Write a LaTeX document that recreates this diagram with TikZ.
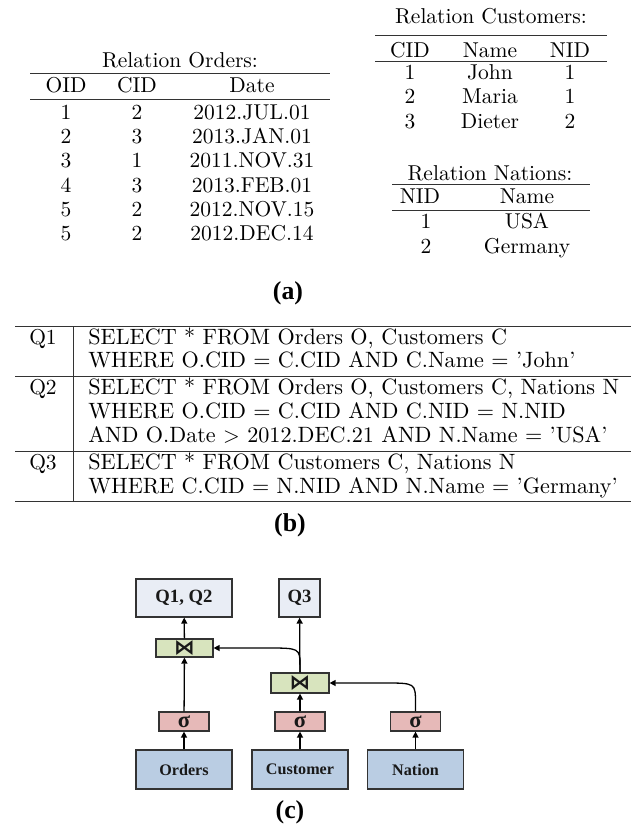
\documentclass[tikz,border=0pt]{standalone}
\usepackage{fontspec}
\newfontfamily\capfont{Liberation Serif}
\newfontfamily\symfont{DejaVu Sans}
\usetikzlibrary{arrows.meta}
\newdimen\pxu \pxu=0.465pt
\definecolor{qfill}{HTML}{E9EDF5}
\definecolor{jfill}{HTML}{D8E4BE}
\definecolor{sfill}{HTML}{E6B9B8}
\definecolor{bfill}{HTML}{BACDE3}
\definecolor{edge}{HTML}{333333}
\begin{document}
\begin{tikzpicture}[x=0.465pt,y=-0.465pt,
  cell/.style={anchor=base,inner sep=0,font=\fontsize{10}{12}\selectfont},
  sql/.style={anchor=base west,inner sep=0,font=\fontsize{10.3}{12}\selectfont},
  rule/.style={line width=0.45pt,draw=black!80},
  sublabel/.style={inner sep=0,font=\capfont\bfseries\fontsize{12}{14}\selectfont},
  opbox/.style={draw=edge,line width=0.55pt,inner sep=0,text=black!90},
  qbox/.style={opbox,fill=qfill,minimum height=38\pxu,font=\capfont\bfseries\fontsize{8.7}{10}\selectfont},
  jbox/.style={opbox,fill=jfill,minimum width=57\pxu,font=\symfont\bfseries\fontsize{9.6}{10}\selectfont},
  sbox/.style={opbox,fill=sfill,minimum width=50\pxu,minimum height=19\pxu,font=\capfont\bfseries\fontsize{10.5}{10}\selectfont},
  bbox/.style={opbox,fill=bfill,minimum width=96\pxu,minimum height=39\pxu,font=\capfont\bfseries\fontsize{7.5}{9}\selectfont},
  arr/.style={line width=0.6pt,draw=black,-{Triangle[length=2.8pt,width=2.8pt]}}
]
\useasboundingbox (0,0) rectangle (631,825);

% ---- relation Orders ----
\node[cell] (ocap) at (180,67) {Relation Orders:};
\draw[rule] (30,73) -- (330,73);
\node[cell] (oh1) at (66,92) {OID};
\node[cell] (oh2) at (137,92) {CID};
\node[cell] (oh3) at (252,92) {Date};
\draw[rule] (30,99) -- (330,99);
\foreach \y/\a/\b/\c [count=\k] in {119/1/2/2012.JUL.01,143/2/3/2013.JAN.01,167/3/1/2011.NOV.31,192/4/3/2013.FEB.01,216/5/2/2012.NOV.15,240/5/2/2012.DEC.14}{
  \node[cell] (o\k a) at (66,\y) {\a};
  \node[cell] (o\k b) at (137,\y) {\b};
  \node[cell] (o\k c) at (252,\y) {\c};
}

% ---- relation Customers ----
\node[cell] (ccap) at (491,23) {Relation Customers:};
\draw[rule] (375,35) -- (607,35);
\node[cell] (ch1) at (410,57) {CID};
\node[cell] (ch2) at (490,57) {Name};
\node[cell] (ch3) at (570,57) {NID};
\draw[rule] (375,61) -- (607,61);
\foreach \y/\a/\b/\c [count=\k] in {79/1/John/1,103/2/Maria/1,128/3/Dieter/2}{
  \node[cell] (c\k a) at (410,\y) {\a};
  \node[cell] (c\k b) at (490,\y) {\b};
  \node[cell] (c\k c) at (570,\y) {\c};
}

% ---- relation Nations ----
\node[cell] (ncap) at (490,180) {Relation Nations:};
\draw[rule] (392,184) -- (590,184);
\node[cell] (nh1) at (420,203) {NID};
\node[cell] (nh2) at (527,203) {Name};
\draw[rule] (392,210) -- (590,210);
\node[cell] (n1a) at (426,228) {1};
\node[cell] (n1b) at (527,228) {USA};
\node[cell] (n2a) at (426,253) {2};
\node[cell] (n2b) at (527,253) {Germany};

\node[sublabel] (la) at (288,293) {(a)};

% ---- queries ----
\draw[rule] (15,326) -- (631,326);
\draw[rule] (15,376) -- (631,376);
\draw[rule] (15,451) -- (631,451);
\draw[rule] (15,501) -- (631,501);
\draw[rule] (73,326) -- (73,501);
\node[cell] (q1l) at (43,344) {Q1};
\node[cell] (q2l) at (43,394) {Q2};
\node[cell] (q3l) at (43,469) {Q3};
\node[sql] (s11) at (88,344) {SELECT * FROM Orders O, Customers C};
\node[sql] (s12) at (88,367) {WHERE O.CID = C.CID AND C.Name = 'John'};
\node[sql] (s21) at (88,394) {SELECT * FROM Orders O, Customers C, Nations N};
\node[sql] (s22) at (88,418) {WHERE O.CID = C.CID AND C.NID = N.NID};
\node[sql] (s23) at (88,442) {AND O.Date $>$ 2012.DEC.21 AND N.Name = 'USA'};
\node[sql] (s31) at (88,469) {SELECT * FROM Customers C, Nations N};
\node[sql] (s32) at (88,493) {WHERE C.CID = N.NID AND N.Name = 'Germany'};

\node[sublabel] (lb) at (290,525) {(b)};

% ---- query plan ----
\node[qbox,minimum width=96\pxu] (q12) at (184,598) {Q1, Q2};
\node[qbox,minimum width=41\pxu] (q3) at (299.5,598) {Q3};
\node[jbox,minimum height=18\pxu] (j1) at (184.5,648) {⋈};
\node[jbox,minimum width=58\pxu,minimum height=20\pxu] (j2) at (300,683) {⋈};
\node[sbox] (sg1) at (184,721.5) {σ};
\node[sbox] (sg2) at (300,721.5) {σ};
\node[sbox] (sg3) at (415.5,721.5) {σ};
\node[bbox] (b1) at (184,769.5) {Orders};
\node[bbox] (b2) at (300,769.5) {Customer};
\node[bbox] (b3) at (415.5,769.5) {Nation};

\draw[arr] (b1) -- (sg1);
\draw[arr] (sg1) -- (j1);
\draw[arr] (j1) -- (q12);
\draw[arr] (b2) -- (sg2);
\draw[arr] (sg2) -- (j2);
\draw[arr] (j2) -- (q3);
\draw[arr] (b3) -- (sg3);
\draw[arr] (j2.north) -- ++(0,-6) .. controls (300,648) .. (266,648) -- (j1.east);
\draw[arr] (sg3.north) -- ++(0,-8) .. controls (415.5,683) .. (384,683) -- (j2.east);

\node[sublabel] (lc) at (290,812) {(c)};
\end{tikzpicture}
\end{document}
